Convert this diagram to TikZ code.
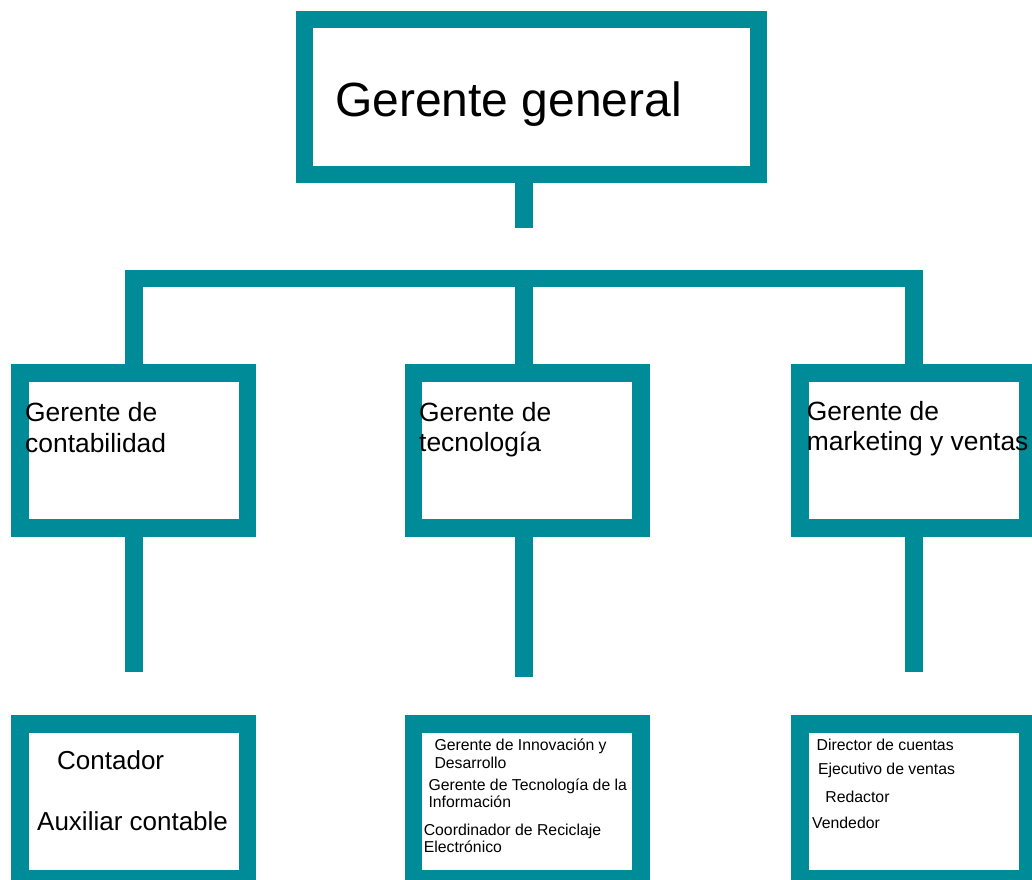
\documentclass[tikz,border=0pt]{standalone}
\usepackage{fontspec}
\setmainfont{Liberation Sans}
\usetikzlibrary{positioning}
\definecolor{orgteal}{RGB}{0,139,153}

\begin{document}
\begin{tikzpicture}[x=1pt,y=-1pt]

\tikzstyle{box} = [rectangle, draw=orgteal, line width=17.5pt, inner sep=0pt, minimum width=227.5pt, minimum height=154.8pt]
\tikzstyle{conn} = [draw=orgteal, line width=17.5pt, line join=miter]
\tikzstyle{txt} = [anchor=base west, inner sep=0pt, align=left]
\tikzstyle{mid} = [txt, font=\fontsize{26.4}{30.4}\selectfont]
\tikzstyle{sml} = [txt, font=\fontsize{15.8}{17.4}\selectfont]

\useasboundingbox (0,0) rectangle (1032,879);
\clip (0,0) rectangle (1032,879);

% boxes
\node (gg) [box, minimum width=454pt, minimum height=155pt] at (531.5,97) {};
\node (con) [box] at (133.8,450.6) {};
\node (tec) [box] at (527,450.6) {};
\node (mkt) [box] at (913.9,450.6) {};
\node (acc) [box] at (133.8,801.5) {};
\node (it) [box] at (527,801.5) {};
\node (sal) [box] at (913.9,801.5) {};

% connectors
\coordinate (spine) at (524,0);
\coordinate (barY) at (0,278.7);
\coordinate (stubA) at (0,671.7);
\coordinate (stubB) at (0,677.3);
\draw[conn] (gg.south -| spine) -- (spine |- 0,227.7);
\draw[conn] (con.north) -- (con.north |- barY) -- (mkt.north |- barY) -- (mkt.north);
\draw[conn] (tec.north -| spine) -- (spine |- barY);
\draw[conn] (con.south) -- (con.south |- stubA);
\draw[conn] (tec.south -| spine) -- (spine |- stubB);
\draw[conn] (mkt.south) -- (mkt.south |- stubA);

% texts (multi-line nodes sit on their last baseline)
\node (ggt) [txt, font=\fontsize{48}{56}\selectfont] at (335,116.7) {Gerente general};
\node (cont) [mid] at (25,452.3) {Gerente de\\contabilidad};
\node (tect) [mid] at (419,451.9) {Gerente de\\tecnología};
\node (mktt) [mid] at (806.7,450.9) {Gerente de\\marketing y ventas};
\node (acc1) [txt, font=\fontsize{26}{30}\selectfont] at (57,769) {Contador};
\node (acc2) [txt, font=\fontsize{26}{30}\selectfont] at (37,830) {Auxiliar contable};
\node (it1) [sml] at (434.3,768.3) {Gerente de Innovación y\\Desarrollo};
\node (it2) [sml] at (428.3,807.6) {Gerente de Tecnología de la\\Información};
\node (it3) [sml] at (423.6,852.4) {Coordinador de Reciclaje\\Electrónico};
\node (sal1) [sml] at (816.5,750.7) {Director de cuentas};
\node (sal2) [sml] at (817.8,774) {Ejecutivo de ventas};
\node (sal3) [sml] at (825.2,802.3) {Redactor};
\node (sal4) [sml] at (812,828.3) {Vendedor};
\end{tikzpicture}
\end{document}
